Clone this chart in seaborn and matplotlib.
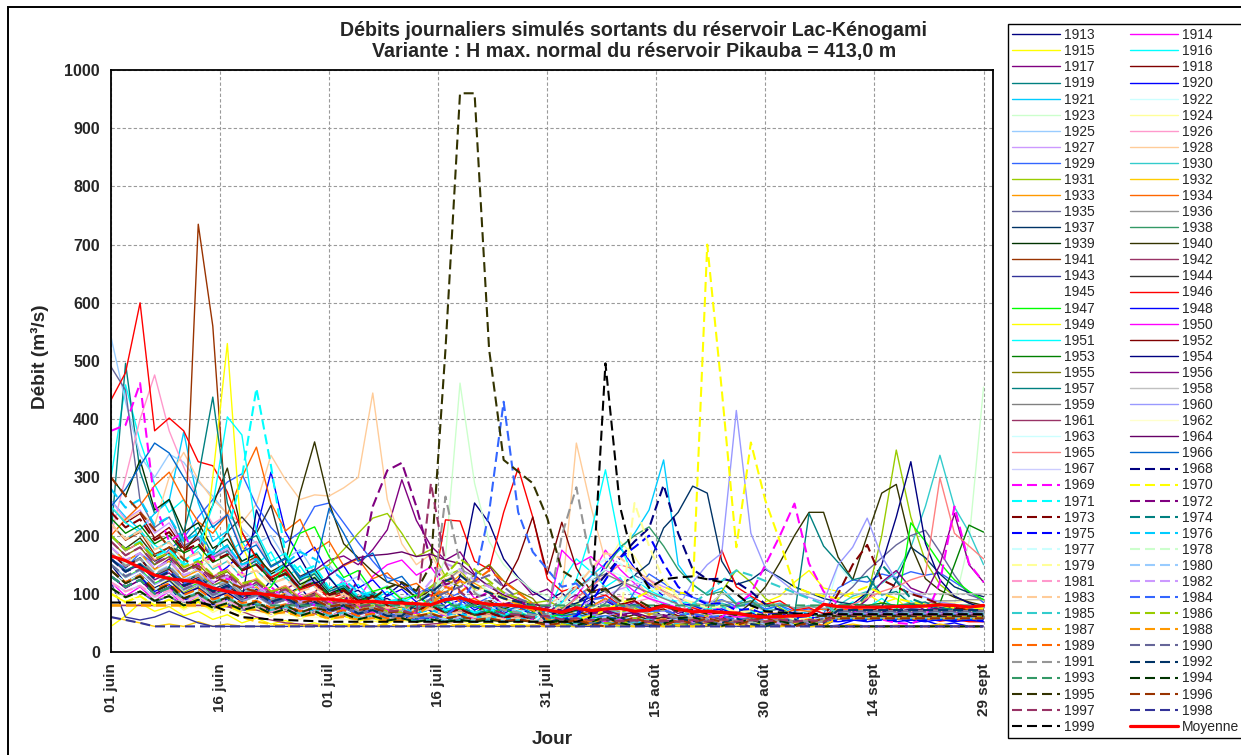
import pandas as pd
import matplotlib
matplotlib.use("Agg")
import matplotlib.pyplot as plt
from matplotlib.lines import Line2D
from matplotlib.patches import Rectangle
import seaborn as sns

# Débits journaliers (m³/s), un point tous les deux jours à partir du 1er juin
DAYS = list(range(0, 121, 2))

q1913 = [150, 118, 132, 96, 112, 84, 101, 78, 95, 72,
         90, 124, 98, 112, 80, 94, 70, 86, 75, 98,
         118, 92, 106, 84, 130, 256, 222, 160, 128, 104,
         88, 102, 76, 90, 68, 82, 64, 78, 60, 72,
         58, 66, 52, 60, 50, 58, 52, 62, 55, 64,
         60, 72, 64, 78, 68, 80, 66, 74, 62, 70,
         62]
q1914 = [120, 96, 112, 88, 104, 80, 96, 74, 90, 70,
         84, 66, 80, 102, 118, 96, 124, 90, 130, 150,
         158, 132, 146, 110, 124, 92, 104, 80, 92, 70,
         82, 68, 96, 130, 175, 142, 118, 96, 84, 74,
         86, 68, 78, 62, 72, 58, 66, 56, 62, 54,
         66, 58, 72, 60, 74, 58, 66, 54, 62, 54,
         58]
q1915 = [44, 62, 84, 70, 78, 62, 70, 56, 64, 50,
         58, 48, 54, 45, 50, 44, 48, 46, 54, 48,
         62, 52, 58, 48, 54, 46, 50, 44, 48, 44,
         52, 60, 48, 58, 50, 46, 52, 45, 48, 44,
         48, 56, 62, 58, 74, 86, 96, 120, 140, 110,
         104, 92, 100, 84, 92, 70, 78, 62, 68, 56,
         58]
q1916 = [300, 459, 362, 288, 240, 262, 196, 218, 168, 190,
         150, 172, 126, 148, 112, 130, 98, 116, 88, 104,
         84, 98, 76, 92, 70, 86, 66, 80, 62, 76,
         70, 120, 160, 138, 112, 128, 92, 104, 80, 88,
         72, 84, 66, 78, 62, 72, 58, 68, 55, 64,
         72, 86, 76, 92, 74, 88, 70, 82, 66, 74,
         62]
q1917 = [180, 156, 170, 142, 160, 128, 144, 118, 132, 104,
         120, 96, 108, 122, 140, 158, 165, 150, 176, 210,
         296, 226, 182, 158, 172, 134, 148, 112, 126, 98,
         108, 86, 98, 78, 92, 74, 86, 70, 82, 66,
         78, 62, 72, 58, 68, 55, 64, 52, 60, 52,
         62, 74, 66, 80, 70, 84, 72, 82, 68, 74,
         64]
q1918 = [250, 222, 238, 196, 214, 178, 194, 160, 176, 142,
         158, 128, 142, 110, 126, 98, 112, 88, 100, 80,
         92, 74, 86, 70, 82, 66, 78, 62, 72, 58,
         66, 52, 60, 48, 58, 46, 56, 45, 54, 46,
         54, 46, 52, 45, 50, 46, 52, 45, 50, 46,
         72, 74, 72, 75, 72, 73, 71, 74, 72, 73,
         72]
q1919 = [200, 496, 310, 238, 262, 190, 214, 166, 184, 140,
         158, 122, 136, 104, 118, 92, 106, 84, 96, 78,
         88, 72, 82, 68, 78, 64, 74, 60, 70, 56,
         64, 54, 60, 50, 58, 54, 50, 56, 52, 50,
         55, 50, 54, 48, 52, 50, 54, 48, 50, 52,
         66, 67, 66, 68, 66, 67, 66, 68, 66, 67,
         66]
q1920 = [140, 118, 130, 104, 116, 96, 112, 128, 146, 170,
         210, 309, 206, 162, 180, 132, 148, 110, 124, 96,
         108, 86, 98, 78, 90, 72, 84, 66, 78, 62,
         70, 58, 66, 76, 88, 74, 82, 66, 72, 58,
         64, 54, 58, 50, 54, 46, 50, 45, 48, 44,
         46, 54, 64, 56, 60, 50, 54, 46, 50, 44,
         44]
q1921 = [260, 232, 210, 238, 260, 378, 256, 190, 208, 156,
         170, 128, 146, 112, 126, 98, 112, 88, 100, 80,
         92, 76, 88, 70, 84, 66, 78, 62, 74, 58,
         66, 86, 108, 130, 152, 176, 204, 244, 330, 150,
         116, 98, 110, 84, 94, 72, 80, 64, 70, 58,
         62, 70, 64, 74, 66, 78, 70, 80, 72, 76,
         68]
q1922 = [130, 110, 124, 98, 112, 90, 104, 84, 96, 78,
         90, 72, 84, 68, 80, 64, 76, 60, 70, 56,
         66, 54, 62, 52, 60, 50, 58, 52, 56, 52,
         54, 64, 74, 88, 96, 110, 100, 94, 86, 80,
         78, 68, 74, 62, 68, 58, 64, 55, 60, 53,
         150, 118, 130, 96, 108, 84, 94, 72, 80, 64,
         64]
q1923 = [180, 152, 168, 140, 156, 128, 144, 160, 176, 150,
         162, 132, 146, 118, 130, 104, 116, 94, 104, 82,
         92, 76, 88, 164, 462, 290, 190, 150, 126, 106,
         96, 82, 90, 76, 84, 70, 78, 66, 74, 62,
         70, 58, 66, 55, 62, 52, 58, 50, 56, 52,
         62, 72, 64, 76, 66, 80, 70, 78, 82, 190,
         455]
q1924 = [100, 84, 96, 78, 90, 72, 86, 68, 80, 64,
         76, 60, 72, 56, 68, 54, 64, 52, 60, 50,
         58, 50, 56, 48, 54, 50, 56, 48, 54, 50,
         56, 66, 84, 108, 146, 190, 164, 126, 108, 92,
         86, 72, 80, 66, 74, 62, 68, 56, 62, 54,
         70, 76, 72, 80, 76, 84, 80, 88, 84, 90,
         88]
q1925 = [541, 430, 338, 300, 340, 326, 292, 268, 236, 212,
         186, 200, 160, 176, 136, 150, 118, 130, 102, 114,
         92, 104, 84, 96, 78, 88, 72, 82, 68, 76,
         64, 72, 60, 68, 56, 64, 54, 60, 52, 58,
         52, 50, 54, 50, 52, 48, 52, 50, 54, 50,
         62, 63, 62, 64, 62, 63, 62, 64, 62, 63,
         62]
q1926 = [200, 300, 400, 476, 380, 318, 262, 220, 236, 178,
         190, 146, 160, 124, 136, 108, 118, 96, 104, 86,
         94, 78, 86, 70, 80, 66, 74, 62, 70, 58,
         64, 56, 66, 78, 88, 96, 86, 92, 78, 70,
         74, 62, 68, 58, 64, 55, 60, 53, 58, 52,
         58, 66, 62, 70, 64, 72, 66, 70, 62, 66,
         60]
q1927 = [260, 228, 244, 204, 222, 182, 198, 164, 178, 146,
         160, 128, 142, 112, 124, 98, 110, 88, 98, 80,
         90, 74, 84, 68, 78, 64, 72, 60, 68, 56,
         58, 66, 76, 88, 96, 108, 116, 124, 112, 104,
         94, 86, 90, 78, 82, 70, 74, 64, 66, 58,
         62, 68, 64, 72, 66, 76, 70, 78, 72, 80,
         78]
q1928 = [250, 226, 240, 218, 300, 343, 296, 262, 238, 222,
         254, 338, 296, 262, 270, 268, 282, 300, 445, 262,
         186, 150, 168, 124, 138, 104, 116, 92, 102, 84,
         80, 96, 359, 250, 156, 118, 126, 96, 104, 82,
         78, 68, 74, 62, 68, 58, 62, 55, 58, 52,
         62, 70, 64, 72, 66, 74, 70, 72, 68, 70,
         70]
q1929 = [160, 144, 170, 150, 176, 196, 232, 262, 292, 306,
         252, 214, 188, 206, 250, 256, 222, 188, 156, 128,
         120, 100, 112, 90, 102, 82, 94, 76, 88, 72,
         80, 66, 74, 62, 70, 60, 104, 134, 118, 102,
         94, 84, 90, 78, 84, 74, 80, 70, 74, 66,
         110, 124, 120, 134, 128, 138, 132, 136, 120, 104,
         85]
q1930 = [220, 194, 210, 176, 190, 158, 172, 142, 156, 128,
         140, 116, 128, 104, 116, 94, 106, 86, 98, 80,
         90, 74, 84, 68, 78, 64, 72, 60, 66, 56,
         60, 64, 70, 62, 74, 66, 78, 70, 80, 74,
         82, 72, 84, 76, 88, 78, 84, 74, 80, 72,
         80, 96, 104, 118, 136, 180, 250, 338, 249, 206,
         150]
q1931 = [140, 118, 132, 110, 124, 102, 116, 96, 108, 90,
         100, 88, 96, 110, 136, 150, 176, 204, 230, 238,
         204, 164, 176, 130, 142, 108, 118, 94, 102, 84,
         88, 76, 84, 72, 80, 68, 76, 64, 72, 60,
         66, 62, 104, 141, 120, 92, 76, 62, 58, 55,
         62, 66, 95, 200, 347, 232, 156, 116, 96, 84,
         75]
q1932 = [60, 55, 50, 44, 48, 44, 52, 44, 48, 44,
         44, 44, 48, 44, 46, 44, 44, 50, 44, 44,
         44, 46, 44, 44, 48, 44, 44, 46, 44, 44,
         44, 48, 44, 46, 44, 44, 48, 44, 44, 46,
         44, 44, 48, 44, 46, 44, 44, 48, 44, 44,
         44, 48, 44, 44, 46, 44, 44, 48, 44, 44,
         44]
q1933 = [180, 156, 170, 142, 156, 128, 140, 114, 126, 100,
         112, 90, 102, 82, 94, 76, 86, 70, 80, 66,
         72, 62, 84, 112, 132, 118, 104, 92, 84, 72,
         68, 62, 64, 78, 92, 80, 72, 66, 62, 58,
         60, 55, 58, 53, 56, 52, 55, 52, 54, 52,
         64, 65, 64, 66, 64, 65, 64, 66, 64, 65,
         64]
q1934 = [200, 228, 252, 286, 309, 262, 224, 204, 236, 300,
         352, 256, 208, 228, 174, 190, 148, 160, 126, 136,
         110, 118, 96, 104, 86, 92, 78, 84, 72, 78,
         68, 74, 64, 70, 60, 66, 58, 62, 55, 58,
         56, 60, 58, 64, 62, 68, 66, 72, 70, 74,
         72, 74, 72, 70, 72, 70, 68, 70, 68, 69,
         68]
q1935 = [490, 450, 260, 214, 232, 182, 196, 162, 174, 140,
         152, 124, 136, 108, 120, 96, 106, 86, 96, 78,
         86, 72, 80, 66, 74, 62, 68, 58, 64, 55,
         60, 54, 58, 64, 84, 112, 132, 118, 104, 92,
         84, 74, 78, 68, 72, 62, 66, 58, 60, 54,
         90, 112, 140, 162, 184, 200, 209, 172, 132, 98,
         90]
q1936 = [140, 120, 134, 108, 122, 100, 112, 92, 104, 86,
         96, 80, 90, 74, 84, 70, 78, 66, 72, 62,
         60, 74, 92, 120, 142, 130, 114, 102, 92, 82,
         78, 72, 76, 68, 74, 70, 78, 74, 80, 76,
         84, 80, 88, 84, 86, 80, 82, 76, 78, 75,
         76, 78, 77, 80, 80, 84, 84, 88, 88, 90,
         90]
q1937 = [170, 148, 162, 132, 146, 120, 132, 108, 118, 96,
         108, 88, 98, 80, 90, 74, 82, 68, 76, 64,
         70, 60, 66, 56, 62, 54, 58, 52, 56, 52,
         62, 72, 84, 94, 106, 116, 132, 152, 213, 240,
         285, 273, 156, 116, 124, 142, 128, 112, 102, 92,
         86, 82, 80, 78, 122, 180, 162, 134, 112, 102,
         95]
q1938 = [160, 140, 152, 130, 144, 122, 134, 114, 124, 104,
         116, 96, 106, 88, 98, 82, 90, 76, 84, 72,
         78, 66, 74, 62, 70, 58, 64, 55, 60, 53,
         62, 74, 92, 114, 142, 180, 200, 215, 182, 142,
         116, 98, 104, 82, 88, 70, 74, 62, 66, 58,
         62, 66, 64, 70, 68, 74, 72, 76, 74, 78,
         78]
q1939 = [300, 268, 330, 244, 262, 206, 222, 178, 194, 156,
         168, 134, 148, 116, 128, 100, 110, 88, 98, 80,
         88, 72, 80, 66, 74, 62, 68, 58, 64, 56,
         58, 50, 54, 48, 52, 46, 50, 46, 52, 48,
         50, 46, 52, 48, 44, 50, 46, 52, 48, 44,
         58, 58, 59, 58, 58, 59, 58, 58, 59, 58,
         58]
q1940 = [200, 178, 196, 164, 180, 172, 204, 252, 316, 206,
         162, 138, 152, 273, 361, 256, 186, 162, 138, 120,
         112, 94, 104, 86, 96, 80, 88, 74, 82, 70,
         76, 64, 72, 60, 68, 58, 64, 55, 60, 53,
         56, 52, 58, 64, 84, 112, 154, 200, 240, 240,
         163, 124, 200, 273, 288, 184, 126, 106, 94, 86,
         80]
q1941 = [220, 192, 206, 168, 180, 150, 735, 560, 206, 150,
         164, 128, 140, 108, 120, 94, 104, 84, 94, 78,
         86, 70, 80, 66, 74, 62, 70, 58, 64, 55,
         60, 50, 56, 47, 52, 46, 50, 45, 50, 46,
         50, 46, 52, 46, 50, 45, 52, 46, 50, 48,
         60, 61, 60, 62, 60, 61, 60, 62, 60, 61,
         60]
q1942 = [80, 80, 80, 80, 80, 80, 80, 80, 78, 70,
         60, 55, 50, 48, 46, 45, 44, 44, 44, 44,
         44, 46, 48, 50, 52, 54, 56, 58, 60, 60,
         60, 58, 56, 54, 52, 50, 48, 46, 45, 44,
         44, 48, 44, 50, 44, 48, 44, 50, 44, 48,
         56, 56, 56, 56, 56, 56, 56, 56, 56, 56,
         56]
q1943 = [120, 60, 55, 60, 70, 60, 50, 44, 44, 44,
         44, 44, 44, 44, 44, 44, 44, 44, 44, 44,
         44, 44, 44, 44, 44, 44, 44, 44, 44, 44,
         44, 44, 44, 44, 44, 44, 44, 44, 44, 44,
         44, 44, 44, 44, 44, 44, 44, 44, 44, 44,
         44, 44, 44, 44, 44, 44, 44, 44, 44, 44,
         44]
q1944 = [200, 174, 188, 156, 170, 140, 152, 170, 206, 232,
         204, 252, 160, 130, 142, 108, 118, 94, 104, 84,
         92, 76, 84, 70, 78, 64, 72, 60, 66, 56,
         60, 54, 58, 52, 56, 52, 56, 52, 55, 52,
         54, 52, 55, 52, 54, 52, 55, 52, 54, 52,
         70, 71, 70, 72, 70, 71, 70, 72, 70, 71,
         70]
q1945 = [150, 140, 130, 120, 110, 100, 95, 90, 85, 80,
         78, 76, 74, 72, 70, 68, 66, 64, 62, 60,
         58, 56, 55, 54, 53, 52, 52, 52, 52, 52,
         48, 56, 46, 52, 60, 50, 45, 54, 48, 58,
         54, 46, 50, 58, 48, 44, 52, 56, 46, 50,
         66, 66, 66, 66, 66, 66, 66, 66, 66, 66,
         66]
q1946 = [433, 480, 600, 380, 402, 380, 327, 320, 275, 206,
         160, 128, 142, 106, 116, 92, 100, 82, 90, 76,
         84, 72, 86, 227, 225, 156, 142, 240, 316, 232,
         126, 104, 112, 90, 98, 80, 88, 74, 80, 70,
         76, 68, 175, 112, 96, 82, 88, 72, 76, 66,
         70, 62, 66, 58, 62, 55, 58, 53, 56, 52,
         52]
q1947 = [150, 128, 142, 118, 130, 108, 118, 98, 108, 88,
         98, 112, 150, 204, 215, 164, 128, 140, 104, 112,
         90, 98, 80, 88, 74, 80, 68, 74, 64, 68,
         60, 64, 56, 62, 54, 58, 52, 56, 52, 55,
         52, 56, 52, 55, 52, 56, 52, 55, 52, 56,
         60, 66, 64, 70, 68, 222, 190, 153, 124, 104,
         90]
q1948 = [110, 94, 104, 86, 96, 80, 88, 74, 82, 70,
         78, 66, 74, 62, 70, 58, 66, 56, 62, 54,
         58, 52, 56, 52, 55, 52, 56, 52, 55, 52,
         56, 52, 64, 104, 152, 180, 144, 116, 96, 84,
         80, 70, 74, 64, 68, 58, 62, 55, 58, 53,
         52, 55, 52, 56, 52, 55, 52, 56, 52, 55,
         52]
q1949 = [100, 86, 96, 80, 90, 78, 94, 300, 530, 184,
         128, 104, 114, 90, 98, 82, 88, 74, 80, 68,
         74, 62, 68, 58, 64, 55, 60, 53, 58, 52,
         56, 52, 55, 52, 56, 52, 55, 52, 56, 52,
         55, 52, 56, 52, 55, 52, 56, 52, 55, 52,
         64, 65, 64, 66, 64, 65, 64, 66, 64, 65,
         64]
q1950 = [130, 110, 124, 98, 110, 90, 100, 82, 92, 76,
         86, 70, 80, 66, 76, 62, 70, 58, 66, 55,
         60, 54, 58, 52, 56, 52, 55, 52, 56, 52,
         62, 175, 150, 164, 142, 124, 104, 92, 84, 76,
         72, 66, 68, 60, 62, 56, 58, 54, 56, 52,
         60, 66, 64, 70, 68, 74, 72, 76, 74, 78,
         78]
q1951 = [250, 222, 206, 184, 166, 154, 178, 252, 404, 373,
         206, 156, 170, 126, 138, 104, 114, 92, 100, 82,
         90, 76, 84, 70, 78, 66, 72, 62, 68, 60,
         64, 84, 124, 204, 313, 184, 126, 106, 94, 86,
         84, 74, 78, 66, 70, 60, 64, 56, 60, 54,
         60, 66, 64, 70, 68, 74, 72, 76, 74, 78,
         78]
q1952 = [170, 146, 160, 130, 142, 118, 128, 104, 114, 94,
         104, 86, 94, 78, 86, 72, 80, 66, 74, 62,
         68, 58, 64, 56, 62, 66, 84, 112, 160, 232,
         134, 223, 144, 104, 110, 82, 88, 70, 74, 62,
         66, 58, 62, 55, 58, 53, 56, 52, 54, 52,
         60, 61, 60, 62, 60, 61, 60, 62, 60, 61,
         60]
q1953 = [230, 204, 218, 186, 200, 170, 182, 154, 166, 140,
         150, 124, 136, 110, 120, 98, 108, 88, 96, 80,
         88, 72, 80, 66, 74, 62, 68, 58, 64, 55,
         58, 54, 56, 52, 55, 52, 56, 52, 55, 52,
         56, 52, 55, 52, 56, 52, 55, 52, 56, 52,
         80, 82, 80, 84, 80, 82, 80, 84, 150, 218,
         206]
q1954 = [140, 120, 134, 110, 122, 100, 110, 92, 102, 86,
         244, 186, 146, 162, 118, 128, 98, 106, 86, 92,
         78, 84, 70, 76, 64, 70, 60, 66, 56, 62,
         55, 58, 53, 56, 52, 55, 52, 56, 52, 55,
         52, 56, 52, 55, 52, 56, 52, 55, 52, 60,
         70, 82, 102, 150, 232, 327, 187, 124, 96, 84,
         75]
q1955 = [190, 166, 180, 150, 164, 138, 150, 126, 138, 114,
         124, 102, 112, 92, 102, 84, 94, 78, 86, 72,
         78, 84, 104, 124, 112, 132, 150, 122, 104, 92,
         62, 50, 56, 48, 54, 50, 48, 54, 50, 48,
         52, 50, 48, 54, 50, 48, 52, 50, 48, 52,
         68, 69, 68, 70, 68, 69, 68, 70, 68, 69,
         68]
q1956 = [160, 138, 150, 124, 136, 112, 122, 100, 110, 90,
         98, 82, 90, 74, 82, 68, 76, 64, 70, 60,
         66, 56, 62, 54, 58, 52, 56, 52, 55, 52,
         60, 52, 45, 50, 56, 48, 54, 46, 52, 60,
         46, 50, 55, 48, 44, 52, 58, 50, 46, 54,
         60, 70, 90, 120, 140, 110, 100, 150, 238, 150,
         120]
q1957 = [160, 140, 152, 132, 146, 206, 300, 438, 256, 188,
         200, 148, 162, 124, 134, 104, 114, 92, 100, 84,
         90, 76, 84, 70, 78, 66, 72, 62, 68, 58,
         62, 55, 58, 53, 56, 52, 55, 52, 56, 52,
         55, 52, 56, 52, 55, 52, 56, 64, 238, 182,
         154, 124, 130, 98, 104, 82, 86, 72, 76, 64,
         64]
q1958 = [120, 104, 114, 94, 104, 86, 96, 80, 88, 74,
         82, 70, 76, 64, 72, 60, 66, 58, 62, 55,
         58, 53, 56, 52, 55, 52, 56, 52, 55, 52,
         56, 52, 55, 52, 56, 52, 55, 52, 56, 52,
         60, 80, 100, 100, 100, 100, 100, 100, 100, 100,
         100, 100, 100, 100, 100, 100, 100, 100, 100, 100,
         100]
q1959 = [110, 94, 104, 88, 96, 80, 90, 76, 84, 72,
         78, 66, 74, 62, 70, 60, 66, 56, 62, 54,
         58, 52, 56, 52, 55, 52, 56, 52, 55, 52,
         70, 92, 112, 124, 134, 122, 112, 102, 92, 82,
         56, 48, 44, 54, 50, 46, 58, 52, 48, 45,
         62, 62, 62, 62, 62, 62, 62, 62, 62, 62,
         62]
q1960 = [150, 128, 140, 116, 128, 106, 116, 96, 106, 88,
         96, 80, 90, 74, 84, 70, 78, 66, 72, 60,
         66, 56, 62, 54, 58, 52, 56, 52, 55, 52,
         56, 60, 58, 64, 62, 68, 66, 72, 70, 76,
         120, 150, 170, 415, 204, 144, 124, 104, 94, 86,
         150, 180, 230, 164, 124, 104, 94, 86, 82, 78,
         76]
q1961 = [80, 80, 80, 80, 80, 80, 80, 80, 78, 75,
         72, 66, 70, 62, 66, 58, 62, 56, 58, 55,
         54, 52, 55, 52, 56, 52, 55, 52, 56, 52,
         56, 52, 55, 52, 56, 52, 55, 52, 56, 52,
         56, 52, 55, 52, 56, 52, 55, 52, 56, 52,
         66, 66, 66, 66, 66, 66, 66, 66, 66, 66,
         66]
q1962 = [100, 95, 90, 85, 80, 78, 76, 74, 72, 70,
         68, 66, 64, 62, 60, 58, 56, 55, 54, 53,
         52, 52, 52, 52, 52, 52, 52, 52, 52, 52,
         52, 52, 52, 52, 52, 52, 52, 52, 52, 52,
         52, 52, 52, 52, 52, 52, 52, 52, 52, 52,
         62, 62, 62, 62, 62, 62, 62, 62, 62, 62,
         62]
q1963 = [140, 120, 134, 108, 120, 96, 106, 88, 98, 80,
         88, 74, 82, 70, 78, 64, 72, 60, 66, 58,
         56, 72, 92, 112, 122, 104, 92, 82, 72, 62,
         62, 82, 104, 124, 142, 132, 122, 112, 102, 92,
         52, 56, 52, 55, 52, 56, 52, 55, 52, 56,
         70, 70, 70, 70, 70, 70, 70, 70, 70, 70,
         70]
q1964 = [130, 110, 124, 100, 112, 92, 102, 84, 94, 78,
         86, 72, 80, 84, 102, 132, 150, 162, 166, 168,
         172, 164, 168, 158, 152, 132, 112, 98, 88, 82,
         78, 72, 76, 68, 72, 64, 68, 60, 64, 58,
         60, 55, 58, 53, 56, 52, 55, 52, 56, 52,
         60, 66, 64, 70, 68, 74, 72, 76, 74, 78,
         78]
q1965 = [200, 174, 188, 158, 172, 144, 156, 130, 142, 116,
         126, 104, 114, 94, 104, 86, 96, 80, 88, 74,
         80, 68, 76, 64, 72, 60, 66, 56, 62, 54,
         62, 72, 92, 112, 132, 150, 142, 124, 104, 92,
         56, 52, 55, 52, 56, 52, 55, 52, 56, 60,
         70, 82, 92, 104, 112, 124, 132, 299, 204, 182,
         160]
q1966 = [250, 280, 320, 359, 342, 300, 262, 214, 236, 172,
         184, 146, 160, 128, 140, 247, 204, 156, 170, 120,
         130, 100, 108, 86, 94, 76, 84, 70, 78, 66,
         70, 62, 66, 58, 62, 55, 58, 53, 56, 52,
         55, 52, 56, 52, 55, 52, 56, 52, 55, 52,
         64, 65, 64, 66, 64, 65, 64, 66, 64, 65,
         64]
q1967 = [120, 104, 114, 94, 104, 86, 96, 80, 88, 74,
         82, 70, 76, 64, 72, 60, 66, 58, 62, 55,
         58, 53, 56, 52, 55, 52, 56, 52, 55, 52,
         54, 46, 50, 58, 48, 44, 52, 56, 46, 50,
         52, 55, 52, 56, 52, 55, 52, 56, 52, 55,
         68, 68, 68, 68, 68, 68, 68, 68, 68, 68,
         68]
q1968 = [130, 112, 124, 100, 110, 90, 100, 82, 92, 76,
         84, 70, 78, 66, 74, 62, 70, 58, 64, 56,
         60, 54, 58, 52, 56, 52, 55, 52, 56, 52,
         62, 72, 84, 102, 132, 162, 190, 213, 287, 204,
         142, 125, 126, 120, 104, 82, 72, 66, 64, 62,
         68, 68, 68, 68, 68, 68, 68, 68, 68, 68,
         68]
q1969 = [380, 390, 462, 256, 190, 206, 150, 164, 124, 136,
         104, 112, 90, 96, 80, 86, 74, 78, 68, 72,
         64, 68, 60, 64, 56, 60, 54, 58, 52, 56,
         52, 56, 52, 55, 52, 56, 52, 55, 52, 56,
         52, 56, 60, 80, 100, 150, 200, 255, 152, 104,
         82, 72, 62, 56, 50, 48, 60, 120, 250, 152,
         120]
q1970 = [100, 86, 96, 80, 90, 76, 86, 72, 80, 68,
         76, 64, 70, 60, 66, 56, 62, 54, 58, 52,
         56, 52, 55, 52, 56, 52, 55, 52, 56, 52,
         55, 52, 56, 62, 72, 84, 92, 104, 112, 102,
         100, 700, 450, 180, 360, 260, 190, 112, 102, 96,
         92, 102, 112, 100, 92, 86, 82, 78, 76, 75,
         75]
q1971 = [200, 176, 190, 164, 176, 150, 160, 172, 206, 300,
         453, 320, 166, 138, 148, 110, 118, 96, 104, 86,
         92, 78, 86, 72, 80, 68, 74, 64, 70, 60,
         64, 58, 62, 55, 58, 53, 56, 52, 55, 52,
         56, 52, 55, 52, 56, 52, 55, 52, 56, 52,
         58, 58, 58, 58, 58, 58, 58, 58, 58, 58,
         58]
q1972 = [160, 138, 150, 126, 138, 114, 124, 102, 112, 92,
         100, 84, 92, 78, 86, 74, 84, 124, 250, 312,
         325, 250, 156, 116, 124, 94, 100, 82, 88, 74,
         78, 70, 74, 66, 70, 62, 66, 58, 62, 55,
         58, 53, 56, 52, 55, 52, 56, 52, 55, 52,
         62, 62, 62, 62, 62, 62, 62, 62, 62, 62,
         62]
q1973 = [240, 214, 228, 192, 206, 174, 186, 156, 168, 140,
         150, 124, 134, 110, 120, 98, 106, 88, 96, 80,
         86, 72, 80, 66, 74, 62, 68, 58, 64, 55,
         58, 53, 56, 52, 55, 52, 56, 52, 55, 52,
         56, 52, 55, 52, 56, 52, 55, 52, 56, 60,
         100, 150, 184, 124, 112, 100, 92, 82, 76, 72,
         70]
q1974 = [150, 130, 142, 118, 130, 108, 118, 98, 108, 90,
         98, 82, 90, 76, 84, 70, 78, 66, 72, 62,
         66, 58, 62, 55, 58, 53, 56, 52, 55, 52,
         56, 48, 44, 54, 50, 46, 58, 52, 48, 45,
         48, 56, 46, 52, 60, 50, 45, 54, 48, 58,
         60, 72, 100, 150, 122, 92, 82, 76, 72, 70,
         70]
q1975 = [130, 112, 124, 100, 110, 90, 100, 84, 92, 78,
         84, 72, 78, 66, 74, 62, 68, 58, 64, 56,
         58, 54, 56, 52, 55, 52, 56, 52, 55, 52,
         52, 56, 62, 84, 124, 162, 180, 200, 152, 112,
         94, 82, 84, 72, 74, 64, 66, 58, 60, 55,
         55, 55, 55, 55, 55, 55, 55, 55, 55, 55,
         55]
q1976 = [280, 248, 262, 218, 232, 190, 204, 168, 182, 150,
         160, 132, 152, 172, 160, 142, 124, 104, 94, 84,
         74, 68, 72, 64, 66, 60, 62, 56, 58, 54,
         60, 52, 45, 50, 56, 48, 54, 46, 52, 60,
         52, 56, 52, 55, 52, 56, 52, 55, 52, 56,
         58, 58, 58, 58, 58, 58, 58, 58, 58, 58,
         58]
q1977 = [120, 104, 114, 96, 106, 88, 98, 82, 90, 76,
         82, 70, 76, 66, 72, 62, 68, 58, 64, 55,
         58, 53, 56, 52, 55, 52, 56, 52, 55, 52,
         70, 92, 122, 142, 160, 152, 132, 112, 96, 86,
         50, 58, 52, 46, 54, 60, 48, 44, 50, 56,
         60, 60, 60, 60, 60, 60, 60, 60, 60, 60,
         60]
q1978 = [150, 130, 142, 118, 130, 108, 118, 98, 108, 90,
         98, 82, 90, 76, 84, 70, 78, 66, 72, 62,
         60, 82, 104, 132, 142, 122, 104, 92, 82, 72,
         56, 52, 55, 52, 56, 52, 55, 52, 56, 52,
         56, 52, 55, 52, 56, 52, 55, 52, 56, 52,
         62, 62, 62, 62, 62, 62, 62, 62, 62, 62,
         62]
q1979 = [110, 94, 104, 88, 96, 82, 90, 76, 84, 72,
         78, 66, 74, 62, 70, 60, 66, 56, 62, 54,
         58, 52, 56, 52, 55, 52, 56, 52, 55, 52,
         56, 52, 55, 52, 56, 52, 256, 182, 124, 94,
         84, 76, 78, 68, 70, 62, 64, 56, 58, 54,
         64, 64, 64, 64, 64, 64, 64, 64, 64, 64,
         64]
q1980 = [170, 148, 160, 136, 148, 124, 134, 112, 122, 102,
         110, 92, 100, 84, 92, 78, 86, 72, 78, 66,
         70, 60, 64, 56, 60, 54, 58, 52, 55, 52,
         48, 56, 46, 52, 60, 50, 45, 54, 48, 58,
         60, 52, 45, 50, 56, 48, 54, 46, 52, 60,
         60, 60, 60, 60, 60, 60, 60, 60, 60, 60,
         60]
q1981 = [120, 104, 114, 96, 106, 88, 98, 82, 90, 76,
         82, 70, 76, 66, 72, 62, 68, 58, 64, 55,
         58, 53, 56, 52, 55, 52, 56, 52, 55, 52,
         56, 52, 55, 52, 56, 52, 55, 52, 56, 52,
         55, 52, 56, 52, 55, 52, 56, 52, 55, 44,
         44, 44, 44, 44, 44, 44, 44, 44, 44, 44,
         44]
q1982 = [180, 158, 170, 144, 156, 132, 142, 120, 130, 108,
         116, 96, 104, 86, 94, 80, 88, 74, 80, 68,
         66, 92, 122, 152, 142, 124, 112, 102, 92, 82,
         46, 50, 55, 48, 44, 52, 58, 50, 46, 54,
         50, 58, 52, 46, 54, 60, 48, 44, 50, 56,
         66, 66, 66, 66, 66, 66, 66, 66, 66, 66,
         66]
q1983 = [220, 194, 208, 176, 188, 160, 170, 146, 156, 132,
         140, 118, 126, 104, 112, 94, 100, 84, 90, 76,
         80, 70, 74, 64, 68, 60, 62, 56, 58, 53,
         62, 82, 112, 142, 170, 162, 142, 122, 102, 92,
         56, 52, 55, 52, 56, 52, 55, 52, 56, 52,
         70, 70, 70, 70, 70, 70, 70, 70, 70, 70,
         70]
q1984 = [160, 138, 150, 128, 140, 118, 126, 106, 114, 96,
         102, 86, 92, 78, 84, 72, 78, 66, 72, 62,
         64, 58, 60, 62, 82, 122, 240, 430, 240, 172,
         142, 112, 118, 90, 94, 78, 80, 70, 72, 64,
         66, 60, 62, 56, 58, 55, 56, 52, 54, 52,
         64, 64, 64, 64, 64, 64, 64, 64, 64, 64,
         64]
q1985 = [130, 112, 124, 100, 110, 92, 102, 86, 94, 80,
         84, 72, 78, 66, 74, 62, 68, 58, 64, 56,
         58, 53, 56, 52, 55, 52, 56, 52, 55, 52,
         54, 46, 50, 58, 48, 44, 52, 56, 46, 50,
         82, 102, 122, 140, 132, 122, 112, 102, 92, 82,
         66, 66, 66, 66, 66, 66, 66, 66, 66, 66,
         66]
q1986 = [200, 176, 188, 160, 170, 146, 156, 132, 140, 118,
         124, 104, 110, 92, 98, 82, 88, 76, 80, 70,
         68, 92, 112, 132, 160, 142, 122, 102, 92, 82,
         56, 48, 44, 54, 50, 46, 58, 52, 48, 45,
         46, 50, 55, 48, 44, 52, 58, 50, 46, 54,
         60, 60, 60, 60, 60, 60, 60, 60, 60, 60,
         60]
q1987 = [80, 80, 80, 80, 80, 80, 80, 78, 70, 60,
         52, 48, 44, 46, 44, 48, 44, 46, 44, 48,
         44, 46, 44, 48, 44, 46, 44, 48, 44, 46,
         44, 46, 44, 48, 44, 46, 44, 48, 44, 46,
         44, 46, 44, 48, 44, 46, 44, 48, 44, 46,
         58, 58, 58, 58, 58, 58, 58, 58, 58, 58,
         58]
q1988 = [80, 80, 80, 80, 80, 80, 80, 80, 80, 75,
         72, 66, 68, 62, 64, 58, 60, 56, 58, 54,
         54, 62, 82, 102, 122, 112, 102, 92, 82, 72,
         56, 52, 55, 52, 56, 52, 55, 52, 56, 52,
         56, 52, 55, 52, 56, 52, 55, 52, 56, 52,
         62, 62, 62, 62, 62, 62, 62, 62, 62, 62,
         62]
q1989 = [140, 120, 132, 108, 118, 98, 108, 90, 98, 84,
         88, 76, 82, 70, 76, 66, 72, 62, 66, 58,
         58, 72, 92, 112, 102, 122, 140, 122, 102, 82,
         56, 52, 55, 52, 56, 52, 55, 52, 56, 52,
         55, 52, 56, 52, 55, 52, 56, 52, 55, 44,
         44, 44, 44, 44, 44, 44, 44, 44, 44, 44,
         44]
q1990 = [150, 130, 142, 118, 130, 108, 118, 98, 108, 90,
         98, 82, 90, 76, 84, 70, 78, 66, 72, 62,
         60, 72, 92, 102, 112, 122, 132, 112, 92, 82,
         60, 52, 45, 50, 56, 48, 54, 46, 52, 60,
         48, 56, 46, 52, 60, 50, 45, 54, 48, 58,
         70, 70, 70, 70, 70, 70, 70, 70, 70, 70,
         70]
q1991 = [170, 148, 160, 134, 146, 122, 132, 110, 120, 100,
         108, 90, 98, 82, 90, 76, 84, 70, 76, 66,
         64, 60, 62, 267, 152, 102, 84, 72, 68, 64,
         62, 200, 283, 152, 104, 84, 74, 66, 62, 60,
         58, 56, 55, 54, 53, 52, 55, 52, 54, 52,
         60, 60, 60, 60, 60, 60, 60, 60, 60, 60,
         60]
q1992 = [160, 138, 150, 126, 138, 114, 124, 104, 114, 94,
         102, 86, 94, 78, 86, 72, 80, 66, 72, 62,
         62, 82, 102, 122, 132, 112, 102, 92, 86, 80,
         50, 58, 52, 46, 54, 60, 48, 44, 50, 56,
         54, 46, 50, 58, 48, 44, 52, 56, 46, 50,
         72, 72, 72, 72, 72, 72, 72, 72, 72, 72,
         72]
q1993 = [130, 112, 124, 100, 110, 92, 100, 84, 92, 80,
         80, 80, 80, 80, 80, 80, 80, 80, 80, 80,
         80, 80, 80, 80, 80, 80, 80, 80, 80, 80,
         80, 80, 80, 80, 80, 80, 80, 80, 80, 80,
         80, 80, 80, 80, 80, 80, 80, 80, 80, 80,
         80, 80, 80, 80, 80, 80, 80, 80, 80, 80,
         80]
q1994 = [110, 94, 104, 88, 96, 80, 90, 76, 84, 72,
         78, 66, 74, 62, 70, 60, 66, 56, 62, 54,
         58, 52, 56, 52, 55, 52, 56, 52, 55, 52,
         48, 56, 46, 52, 60, 50, 45, 54, 48, 58,
         60, 52, 45, 50, 56, 48, 54, 46, 52, 44,
         44, 44, 44, 44, 44, 44, 44, 44, 44, 44,
         44]
q1995 = [140, 118, 130, 104, 116, 92, 102, 84, 94, 78,
         86, 72, 80, 68, 76, 70, 78, 82, 92, 110,
         120, 105, 150, 520, 960, 960, 520, 330, 310, 290,
         230, 140, 124, 102, 108, 88, 92, 78, 80, 70,
         72, 66, 68, 64, 66, 63, 65, 62, 64, 62,
         62, 62, 62, 62, 62, 62, 62, 62, 62, 62,
         62]
q1996 = [300, 268, 240, 210, 180, 160, 143, 130, 120, 110,
         104, 92, 98, 84, 90, 78, 82, 72, 76, 68,
         70, 62, 66, 58, 62, 55, 58, 53, 56, 52,
         46, 50, 55, 48, 44, 52, 58, 50, 46, 54,
         50, 58, 52, 46, 54, 60, 48, 44, 50, 58,
         58, 58, 58, 58, 58, 58, 58, 58, 58, 58,
         58]
q1997 = [190, 166, 180, 152, 164, 138, 148, 124, 134, 112,
         120, 100, 108, 90, 98, 82, 88, 76, 82, 70,
         72, 64, 290, 152, 104, 84, 74, 66, 64, 60,
         62, 56, 58, 55, 56, 53, 55, 52, 54, 52,
         55, 52, 56, 52, 55, 52, 56, 52, 55, 52,
         64, 64, 64, 64, 64, 64, 64, 64, 64, 64,
         64]
q1998 = [60, 55, 50, 44, 44, 44, 44, 44, 44, 44,
         44, 44, 44, 44, 44, 44, 44, 44, 44, 44,
         44, 44, 44, 44, 44, 44, 44, 44, 44, 44,
         44, 44, 44, 44, 44, 44, 44, 44, 44, 44,
         44, 44, 44, 44, 44, 44, 44, 44, 44, 44,
         44, 44, 44, 44, 44, 44, 44, 44, 44, 44,
         44]
q1999 = [85, 85, 85, 85, 85, 85, 85, 80, 70, 60,
         58, 56, 55, 54, 53, 52, 52, 52, 52, 52,
         52, 52, 52, 52, 52, 52, 52, 52, 52, 52,
         52, 52, 52, 60, 496, 250, 150, 110, 125, 128,
         130, 125, 120, 100, 80, 70, 68, 66, 66, 65,
         65, 65, 65, 65, 65, 65, 65, 65, 65, 65,
         65]

MOYENNE = [165, 157, 145, 132, 126, 123, 120, 110, 104, 100,
           101, 98, 94, 92, 91, 91, 88, 86, 87, 85,
           84, 83, 81, 90, 93, 86, 82, 81, 79, 76,
           72, 68, 76, 71, 74, 75, 70, 72, 79, 74,
           69, 70, 68, 67, 62, 60, 61, 62, 63, 82,
           78, 77, 77, 77, 78, 78, 79, 81, 80, 77,
           80]

YEARS = list(range(1913, 2000))

# Palette Excel : années 1913-1967 en trait plein, 1968-1999 en tirets
SOLID_COLORS = ['#000080', '#FF00FF', '#FFFF00', '#00FFFF', '#800080', '#800000', '#008080', '#0000FF',
                '#00CCFF', '#CCFFFF', '#CCFFCC', '#FFFF99', '#99CCFF', '#FF99CC', '#CC99FF', '#FFCC99',
                '#3366FF', '#33CCCC', '#99CC00', '#FFCC00', '#FF9900', '#FF6600', '#666699', '#969696',
                '#003366', '#339966', '#003300', '#333300', '#993300', '#993366', '#333399', '#333333',
                '#FFFFFF', '#FF0000', '#00FF00', '#0000FF', '#FFFF00', '#FF00FF', '#00FFFF', '#800000',
                '#008000', '#000080', '#808000', '#800080', '#008080', '#C0C0C0', '#808080', '#9999FF',
                '#993366', '#FFFFCC', '#CCFFFF', '#660066', '#FF8080', '#0066CC', '#CCCCFF']
DASHED_COLORS = ['#000080', '#FF00FF', '#FFFF00', '#00FFFF', '#800080', '#800000', '#008080', '#0000FF',
                 '#00CCFF', '#CCFFFF', '#CCFFCC', '#FFFF99', '#99CCFF', '#FF99CC', '#CC99FF', '#FFCC99',
                 '#3366FF', '#33CCCC', '#99CC00', '#FFCC00', '#FF9900', '#FF6600', '#666699', '#969696',
                 '#003366', '#339966', '#003300', '#333300', '#993300', '#993366', '#333399', '#000000']

TICK_DAYS = [0, 15, 30, 45, 60, 75, 90, 105, 120]
TICK_LABELS = ['01 juin', '16 juin', '01 juil', '16 juil', '31 juil',
               '15 août', '30 août', '14 sept', '29 sept']

sns.set_style('white')
plt.rcParams['font.family'] = ['Liberation Sans', 'DejaVu Sans']

frames = []
for y in YEARS:
    vals = globals()[f'q{y}']
    n = min(len(vals), len(DAYS))
    frames.append(pd.DataFrame({'jour': DAYS[:n], 'debit': vals[:n], 'annee': str(y)}))
df = pd.concat(frames, ignore_index=True)

labels = [str(y) for y in YEARS]
colors = dict(zip(labels, SOLID_COLORS + DASHED_COLORS))
solid = [str(y) for y in YEARS if y < 1968]
dashed = [str(y) for y in YEARS if y >= 1968]
DASH = (4.8, 2.4)
LW_SOLID, LW_DASH, LW_MEAN = 1.0, 1.5, 2.3

fig = plt.figure(figsize=(12.41, 7.55), dpi=100)
ax = fig.add_axes([111 / 1241, 1 - 652 / 755, 882 / 1241, 582 / 755])

sns.lineplot(data=df[df['annee'].isin(solid)], x='jour', y='debit', hue='annee',
             hue_order=solid, palette=colors, estimator=None, errorbar=None,
             linewidth=LW_SOLID, legend=False, sort=False, ax=ax)
sns.lineplot(data=df[df['annee'].isin(dashed)], x='jour', y='debit', hue='annee',
             style='annee', hue_order=dashed, style_order=dashed, palette=colors,
             dashes={k: DASH for k in dashed}, estimator=None, errorbar=None,
             linewidth=LW_DASH, legend=False, sort=False, ax=ax)
sns.lineplot(x=DAYS, y=MOYENNE, color='#FF0000', linewidth=LW_MEAN,
             estimator=None, errorbar=None, ax=ax)

ax.set_xlim(0, 121.3)
ax.set_ylim(0, 1000)
ax.set_yticks(range(0, 1001, 100))
ax.set_xticks(TICK_DAYS)
ax.set_xticklabels(TICK_LABELS, rotation=90, fontsize=11, fontweight='bold')
for t in ax.get_yticklabels():
    t.set_fontsize(11.5)
    t.set_fontweight('bold')
ax.tick_params(direction='out', length=5, width=1, color='black', pad=3)
ax.grid(True, color='#9a9a9a', linestyle=(0, (3, 2)), linewidth=0.8)
ax.set_axisbelow(True)
for s in ax.spines.values():
    s.set_color('black')
    s.set_linewidth(1.3)
ax.set_xlabel('')
ax.set_ylabel('')

fig.text(634 / 1241, 1 - 31 / 755, 'Débits journaliers simulés sortants du réservoir Lac-Kénogami',
         ha='center', va='center', fontsize=14.1, fontweight='bold')
fig.text(634 / 1241, 1 - 51 / 755, 'Variante : H max. normal du réservoir Pikauba = 413,0 m',
         ha='center', va='center', fontsize=14.1, fontweight='bold')
fig.text(40 / 1241, 1 - 357 / 755, 'Débit (m³/s)', rotation=90, ha='center', va='center',
         fontsize=13.7, fontweight='bold')
fig.text(552 / 1241, 1 - 740 / 755, 'Jour', ha='center', va='center',
         fontsize=13.7, fontweight='bold')

# Légende sur deux colonnes, remplie ligne par ligne
handles = []
for y in YEARS:
    if y < 1968:
        handles.append(Line2D([], [], color=colors[str(y)], lw=LW_SOLID))
    else:
        handles.append(Line2D([], [], color=colors[str(y)], lw=LW_DASH, dashes=DASH))
handles.append(Line2D([], [], color='#FF0000', lw=LW_MEAN))
names = labels + ['Moyenne']
order = list(range(0, len(names), 2)) + list(range(1, len(names), 2))
leg = fig.legend([handles[i] for i in order], [names[i] for i in order], ncol=2,
                 loc='upper left', bbox_to_anchor=(1008 / 1241, 1 - 24 / 755),
                 frameon=True, fancybox=False, edgecolor='black', framealpha=1,
                 fontsize=10, handlelength=3.45, handletextpad=0.29, columnspacing=2.5,
                 labelspacing=0.15, borderpad=0.3, borderaxespad=0)
leg.get_frame().set_linewidth(1.0)

fig.add_artist(Rectangle((8 / 1241, -0.05), 1.2, 1 - 7 / 755 + 0.05, transform=fig.transFigure,
                         fill=False, edgecolor='black', linewidth=1.4))

fig.savefig('out.png', dpi=100)
